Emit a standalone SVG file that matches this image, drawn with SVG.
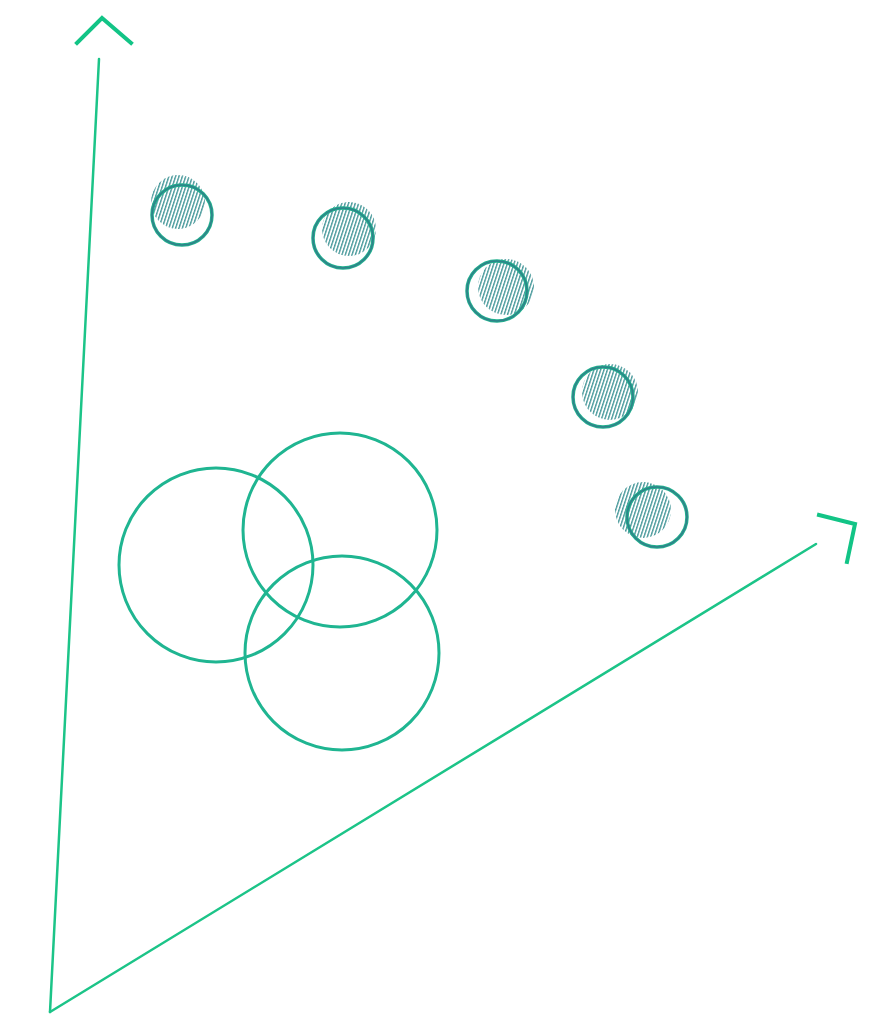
<svg xmlns="http://www.w3.org/2000/svg" width="882" height="1017" viewBox="0 0 882 1017">
<style>
.axis{stroke:#1cc488;stroke-width:2.5;fill:none;stroke-linecap:round}
.head{stroke:#12c486;stroke-width:4;fill:none;stroke-linecap:square}
.big{stroke:#1fb591;stroke-width:3;fill:none}
.ring{stroke:#22b08e;stroke-width:3.5;fill:none}
.ringin{stroke:#30818a;stroke-width:1.6;fill:none}
.hatch{fill:url(#hp)}
</style>
<defs>
<pattern id="hp" width="3.2" height="10" patternUnits="userSpaceOnUse" patternTransform="rotate(18)">
<rect x="0" y="0" width="1.4" height="10" fill="#4a9a9c"/>
</pattern>
</defs>
<g id="axes">
<line class="axis" x1="50" y1="1012" x2="99" y2="59"/>
<line class="axis" x1="50" y1="1012" x2="816" y2="544"/>
<polyline class="head" points="77,43 102,18 131,43"/>
<polyline class="head" points="819,515 855,524 847,562"/>
</g>
<g id="big-circles">
<circle id="c1" class="big" cx="216" cy="565" r="97"/>
<circle id="c2" class="big" cx="340" cy="530" r="97"/>
<circle id="c3" class="big" cx="342" cy="653" r="97"/>
</g>
<g id="p1"><circle class="hatch" cx="178" cy="202" r="27"/><circle class="ring" cx="182" cy="215" r="30"/><circle class="ringin" cx="182" cy="215" r="30"/></g>
<g id="p2"><circle class="hatch" cx="349" cy="229" r="27"/><circle class="ring" cx="343" cy="238" r="30"/><circle class="ringin" cx="343" cy="238" r="30"/></g>
<g id="p3"><circle class="hatch" cx="506" cy="287" r="28"/><circle class="ring" cx="497" cy="291" r="30"/><circle class="ringin" cx="497" cy="291" r="30"/></g>
<g id="p4"><circle class="hatch" cx="610" cy="392" r="28"/><circle class="ring" cx="603" cy="397" r="30"/><circle class="ringin" cx="603" cy="397" r="30"/></g>
<g id="p5"><circle class="hatch" cx="643" cy="510" r="28"/><circle class="ring" cx="657" cy="517" r="30"/><circle class="ringin" cx="657" cy="517" r="30"/></g>
</svg>
